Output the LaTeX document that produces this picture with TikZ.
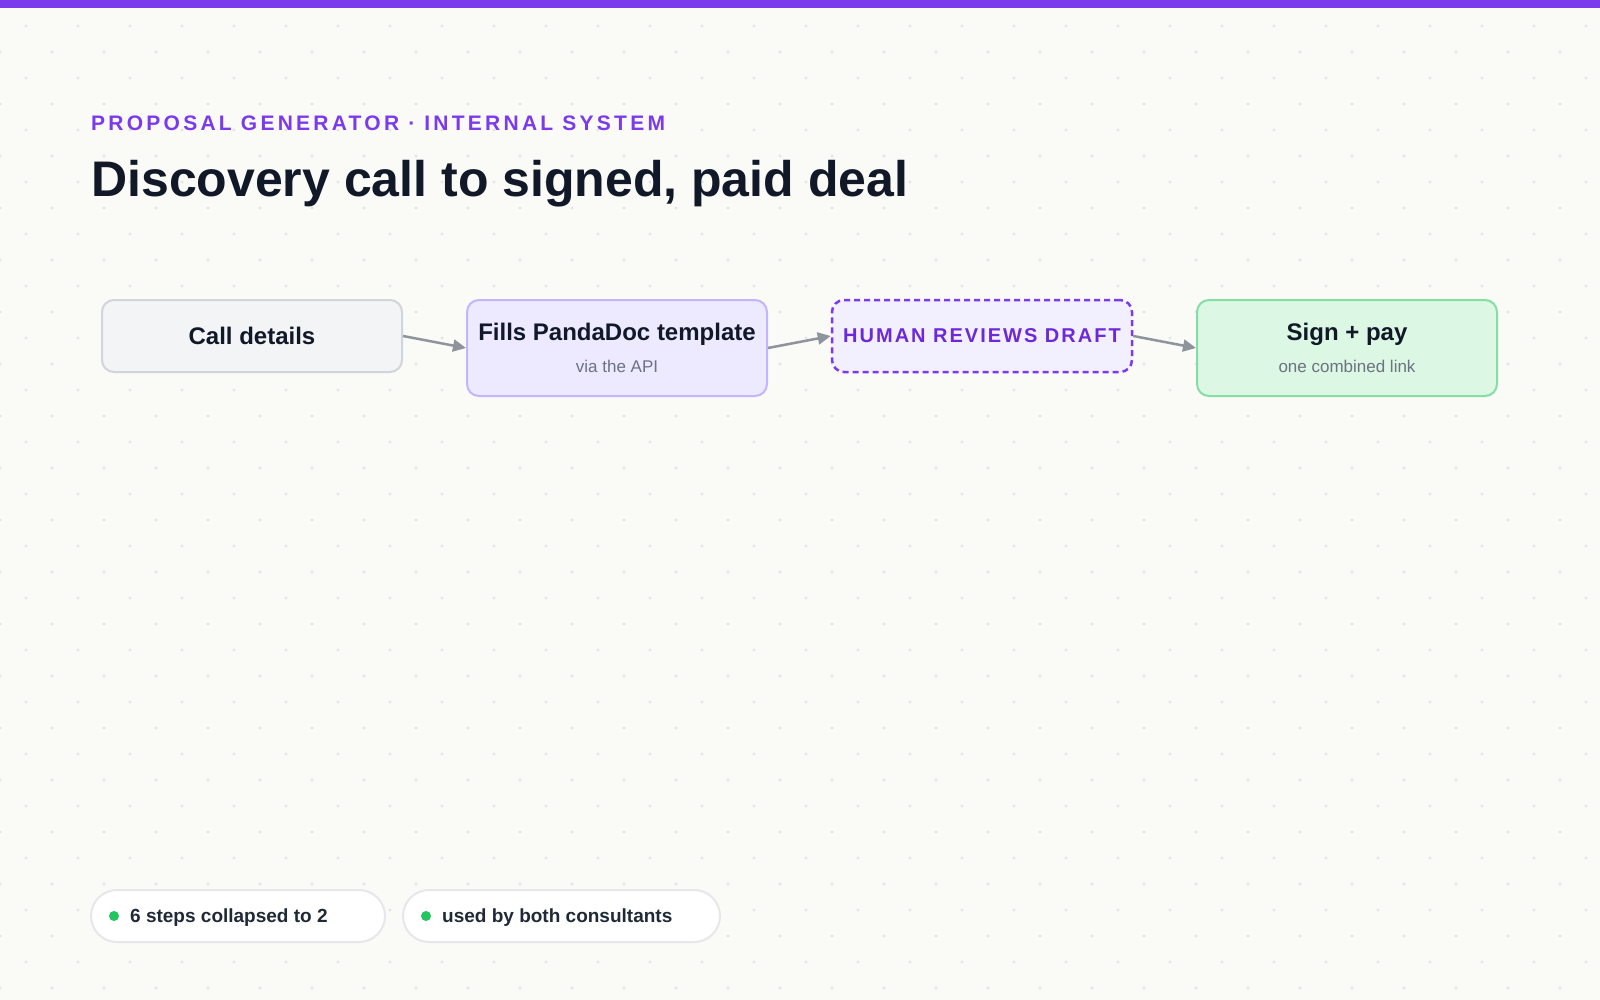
\documentclass[tikz,border=0pt]{standalone}
\usepackage{fontspec}
\setmainfont{Liberation Sans}
\usetikzlibrary{positioning,arrows.meta}

\definecolor{pagebg}{HTML}{FAFAF7}
\definecolor{barpurple}{HTML}{7C3AED}
\definecolor{gridgrey}{HTML}{E4E4E7}
\definecolor{inkdark}{HTML}{111827}
\definecolor{inksoft}{HTML}{6B7280}
\definecolor{pillink}{HTML}{1F2937}
\definecolor{violettext}{HTML}{6D28D9}
\definecolor{greyfill}{HTML}{F3F4F6}
\definecolor{greyline}{HTML}{D1D5DB}
\definecolor{lilacfill}{HTML}{EDE9FE}
\definecolor{lilacline}{HTML}{C4B5FD}
\definecolor{mintfill}{HTML}{DCF7E3}
\definecolor{mintline}{HTML}{86DFA2}
\definecolor{flowgrey}{HTML}{8E949C}
\definecolor{pillline}{HTML}{E5E7EB}
\definecolor{dotgreen}{HTML}{22C55E}

\begin{document}
\begin{tikzpicture}[x=1pt,y=-1pt,
  stepbox/.style={rounded corners=12pt, line width=2pt, minimum width=300pt, align=center, inner sep=0pt},
  boxtitle/.style={font=\fontsize{24}{28}\selectfont\bfseries, text=inkdark},
  flow/.style={draw=flowgrey, line width=2.5pt, -{Triangle[length=13pt,width=12pt]}},
  pill/.style={draw=pillline, fill=white, line width=2pt, rounded corners=26pt, minimum height=52pt, inner sep=0pt},
  pilltext/.style={font=\fontsize{19}{22}\selectfont\bfseries, text=pillink, inner sep=0pt}]

\useasboundingbox (0,0) rectangle (1600,1000);

%-------------------Background--------------------%
\fill[pagebg] (0,0) rectangle (1600,1000);
\foreach \k in {1,3,...,37}
  \foreach \n in {0,...,30}
    \fill[gridgrey] (26+52*\n,26*\k) circle (1.6);
\foreach \k in {2,4,...,38}
  \foreach \n in {0,...,30}
    \fill[gridgrey] (52*\n,26*\k) circle (1.6);
\fill[barpurple] (0,0) rectangle (1600,8);
%----------------------------------------------------%

%-------------------Heading--------------------%
\node[anchor=base west, inner sep=0pt, text=barpurple,
  font=\fontsize{21}{24}\selectfont\bfseries\addfontfeature{LetterSpace=15.5}] (kicker) at (91,131)
  {PROPOSAL GENERATOR · INTERNAL SYSTEM};
\node[anchor=base west, inner sep=0pt, text=inkdark,
  font=\fontsize{50}{58}\selectfont\bfseries] (headline) at (91,197)
  {Discovery call to signed, paid deal};
%----------------------------------------------------%

%-------------------Flow--------------------%
\node[stepbox, fill=greyfill, draw=greyline, minimum height=72pt, boxtitle] (call) at (252,336) {Call details};
\node[stepbox, fill=lilacfill, draw=lilacline, minimum height=96pt] (fill) at (617,348)
  {{\fontsize{24}{28}\selectfont\bfseries\color{inkdark}Fills PandaDoc template}\\[14pt]
   {\fontsize{17}{19}\selectfont\color{inksoft}via the API}};
\node[stepbox, fill=lilacfill!70!white, draw=barpurple, dash pattern=on 6pt off 4pt, line width=2.5pt,
  minimum height=72pt, text=violettext,
  font=\fontsize{20}{23}\selectfont\bfseries\addfontfeature{LetterSpace=10}] (review) at (982,336) {HUMAN REVIEWS DRAFT};
\node[stepbox, fill=mintfill, draw=mintline, minimum height=96pt] (sign) at (1347,348)
  {{\fontsize{24}{28}\selectfont\bfseries\color{inkdark}Sign + pay}\\[14pt]
   {\fontsize{17}{19}\selectfont\color{inksoft}one combined link}};

\draw[flow] (call.east) -- (fill.west);
\draw[flow] (fill.east) -- (review.west);
\draw[flow] (review.east) -- (sign.west);
%----------------------------------------------------%

%-------------------Footer pills--------------------%
\node[pill, minimum width=294pt, anchor=west] (collapsed) at (90,916) {};
\fill[dotgreen] ([xshift=24pt]collapsed.west) circle (5);
\node[pilltext, anchor=west] (collapsedtext) at ([xshift=40pt,yshift=-2pt]collapsed.west) {6 steps collapsed to 2};

\node[pill, minimum width=317pt, anchor=west] (shared) at (402,916) {};
\fill[dotgreen] ([xshift=24pt]shared.west) circle (5);
\node[pilltext, anchor=west] (sharedtext) at ([xshift=40pt,yshift=-2pt]shared.west) {used by both consultants};
%----------------------------------------------------%
\end{tikzpicture}
\end{document}
